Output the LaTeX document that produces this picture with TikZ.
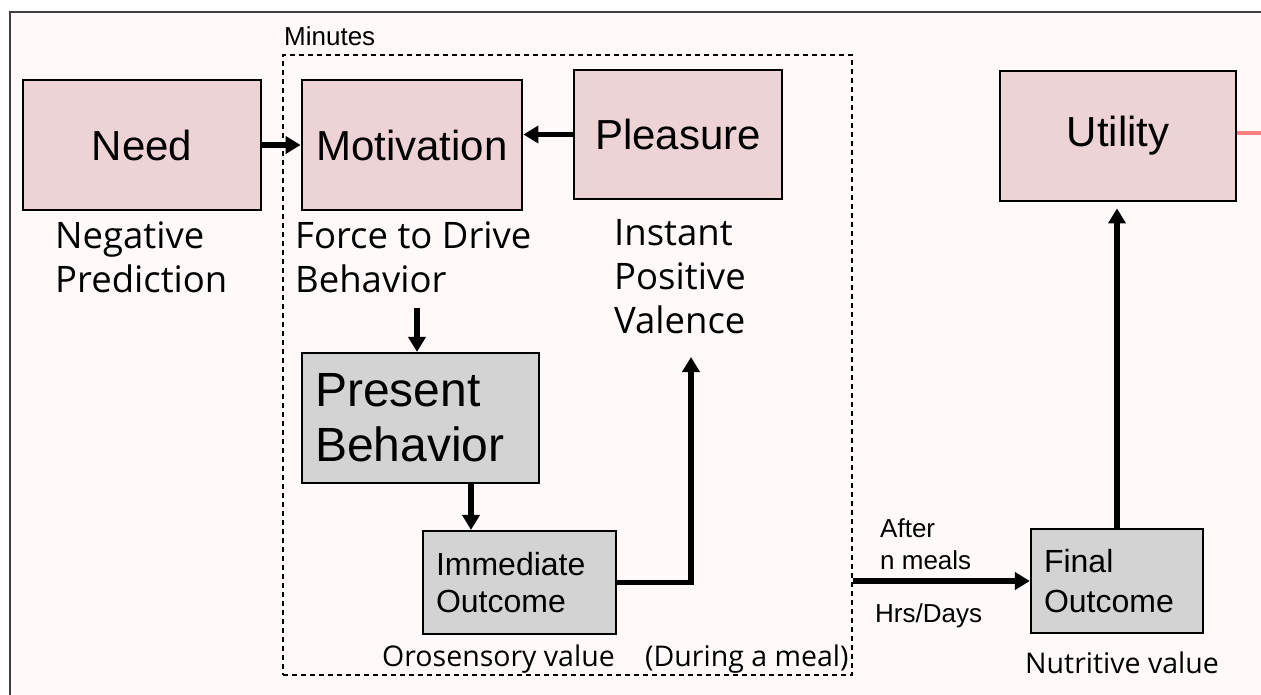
\documentclass[tikz,border=0pt]{standalone}
\usepackage{fontspec}
\setmainfont{Liberation Sans}
\newfontfamily\notefont{Open Sans}
\usetikzlibrary{arrows.meta}

\definecolor{pagebg}{RGB}{255,250,249}
\definecolor{framegray}{RGB}{64,64,64}
\definecolor{boxpink}{RGB}{237,211,214}
\definecolor{boxgray}{RGB}{211,211,211}
\definecolor{linkred}{RGB}{255,128,128}

\tikzset{
  pinkbox/.style={draw=black, line width=2.8pt, fill=boxpink, inner sep=0pt,
    font=\fontsize{42}{50}\selectfont},
  graybox/.style={draw=black, line width=2.2pt, fill=boxgray, inner xsep=13pt,
    inner ysep=0pt, align=left},
  note/.style={inner sep=0pt, anchor=base west, align=left,
    font=\notefont\fontsize{36.5}{44}\selectfont},
  lownote/.style={inner sep=0pt, anchor=base west,
    font=\notefont\fontsize{28.5}{34}\selectfont},
  small/.style={inner sep=0pt, anchor=base west, align=left,
    font=\fontsize{26}{32}\selectfont},
  arr/.style={line width=5.5pt, -{Triangle[length=15pt,width=17pt]}},
  window/.style={draw=black, line width=2pt, dash pattern=on 5pt off 4pt, inner sep=0pt}
}

\begin{document}
\begin{tikzpicture}[x=1pt,y=-1pt]
  \useasboundingbox (0,0) rectangle (1261,695);
  \fill[white] (0,0) rectangle (1261,695);
  \fill[pagebg] (10,12) rectangle (1261,695);
  \draw[framegray, line width=2pt] (1261,12) -- (10,12) -- (10,695);

  % time window of a single meal
  \node[window, minimum width=569pt, minimum height=620pt] (meal) at (567.5,365) {};
  \node[small] (minutes) at (284,46) {Minutes};

  % pink boxes
  \node[pinkbox, minimum width=238pt, minimum height=130pt] (need) at (142,145) {Need};
  \node[pinkbox, minimum width=220pt, minimum height=130pt] (motiv) at (412,145) {Motivation};
  \node[pinkbox, minimum width=208pt, minimum height=129pt] (pleas) at (678,134.5) {Pleasure};
  \node[pinkbox, minimum width=236pt, minimum height=130pt] (util) at (1118,136) {Utility};

  % gray boxes
  \node[graybox, minimum width=237pt, minimum height=130pt, text width=211pt,
    font=\fontsize{48}{55}\selectfont] (present) at (420.5,418) {Present\\Behavior};
  \node[graybox, minimum width=193pt, minimum height=103pt, text width=167pt,
    font=\fontsize{32}{37}\selectfont] (immed) at (519.5,582.5) {Immediate\\Outcome};
  \node[graybox, minimum width=172pt, minimum height=104pt, text width=146pt,
    font=\fontsize{32}{40}\selectfont] (final) at (1117,581) {Final\\Outcome};

  % descriptions (anchored at the baseline of their last line)
  \node[note] (negpred) at (55,292) {Negative\\Prediction};
  \node[note] (force) at (295,292) {Force to Drive\\Behavior};
  \node[note] (instant) at (614,333) {Instant\\Positive\\Valence};
  \node[lownote] (oro) at (382,666) {Orosensory value};
  \node[lownote] (during) at (645,666) {(During a meal)};
  \node[lownote] (nutri) at (1025,673) {Nutritive value};
  \node[small] (after) at (880,569) {After\\n meals};
  \node[small] (hrs) at (875,622) {Hrs/Days};

  % free ends
  \coordinate (drive) at (417,308);
  \coordinate (valtip) at (691,357);
  \coordinate (offpage) at (1261,133);

  % connectors
  \draw[arr] (need.east) -- (motiv.west);
  \draw[arr] (pleas.west) -- (pleas.west -| motiv.east);
  \draw[arr] (drive) -- (drive |- present.north);
  \draw[arr] ([xshift=50.5pt]present.south) -- ([xshift=50.5pt]present.south |- immed.north);
  \draw[arr] (immed.east) -| (valtip);
  \draw[arr] (meal.east |- final.west) -- (final.west);
  \draw[arr, shorten >=6pt] (final.north) -- (final.north |- util.south);
  \draw[linkred, line width=4pt] ([yshift=3pt]util.east) -- (offpage);
\end{tikzpicture}
\end{document}
